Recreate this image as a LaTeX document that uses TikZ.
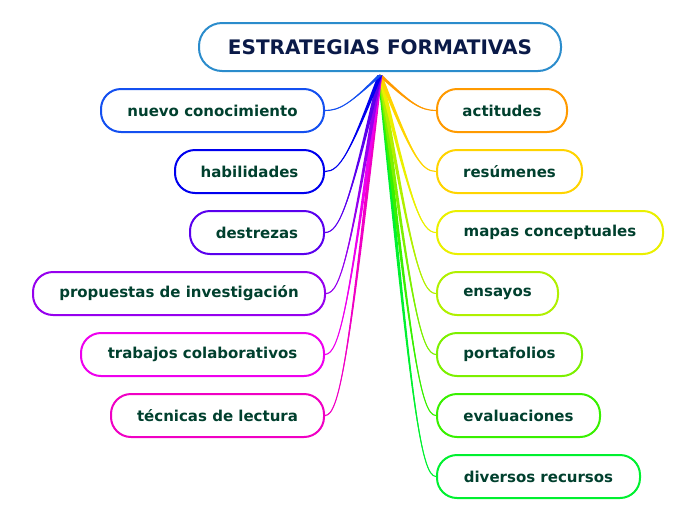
\documentclass[tikz,border=0pt]{standalone}
\usepackage{fontspec}
\setmainfont{DejaVu Sans}
\usetikzlibrary{calc}
\definecolor{txt}{HTML}{00402E}
\definecolor{ttxt}{HTML}{0A1A48}
\definecolor{tbord}{HTML}{2B8CCC}
\definecolor{cA}{HTML}{1450F0}
\definecolor{cB}{HTML}{0000EE}
\definecolor{cC}{HTML}{5A00EE}
\definecolor{cD}{HTML}{9600EE}
\definecolor{cE}{HTML}{EE00EE}
\definecolor{cF}{HTML}{F000C4}
\definecolor{dA}{HTML}{FF9A00}
\definecolor{dB}{HTML}{FFD400}
\definecolor{dC}{HTML}{EAF000}
\definecolor{dD}{HTML}{B0F000}
\definecolor{dE}{HTML}{7CF000}
\definecolor{dF}{HTML}{38F000}
\definecolor{dG}{HTML}{00F030}
\tikzset{
  box/.style={rectangle, rounded corners=20pt, line width=2pt, fill=white,
    minimum height=43pt, inner sep=0pt, text=txt,
    font=\fontsize{15}{18}\selectfont\bfseries},
  titlebox/.style={rectangle, rounded corners=23pt, line width=2pt, draw=tbord, fill=white,
    minimum height=48pt, minimum width=362pt, inner sep=0pt, text=ttxt,
    font=\fontsize{20}{24}\selectfont\bfseries}
}
% #1 colour, #2 target anchor
\newcommand\conn[2]{%
  \path (R) coordinate (r0) (#2) coordinate (t0);
  \path let \p1=(r0), \p2=(t0) in
     coordinate (q1) at ({\x1+0.55*(\x2-\x1)},{\y1+0.81*(\y2-\y1)})
     coordinate (q2) at ({\x2+0.27*(\x1-\x2)},{\y2});
  \fill[#1] ([xshift=-2.2pt]r0) .. controls ([xshift=-1pt,yshift=-0.5pt]q1) and ([yshift=-0.5pt]q2) .. (t0)
     .. controls ([yshift=0.5pt]q2) and ([xshift=1pt,yshift=0.5pt]q1) .. ([xshift=2.2pt]r0) -- cycle;
  \draw[#1, line width=1.1pt] (r0) .. controls (q1) and (q2) .. (t0);
}
\begin{document}
\begin{tikzpicture}[x=1pt,y=-1pt]
\useasboundingbox (0,0) rectangle (696,520);
\node[titlebox] (T) at (380,47) {ESTRATEGIAS FORMATIVAS};
\coordinate (R) at (380,75);
% left nodes
\node[box, draw=cA, minimum width=223pt, anchor=east] (L1) at (325,110.5) {nuevo conocimiento};
\node[box, draw=cB, minimum width=149pt, anchor=east] (L2) at (325,171.5) {habilidades};
\node[box, draw=cC, minimum width=134pt, anchor=east] (L3) at (325,232.5) {destrezas};
\node[box, draw=cD, minimum width=292pt, anchor=east] (L4) at (326,293.5) {propuestas de investigación};
\node[box, draw=cE, minimum width=243pt, anchor=east] (L5) at (325,354.5) {trabajos colaborativos};
\node[box, draw=cF, minimum width=213pt, anchor=east] (L6) at (325,415.5) {técnicas de lectura};
% right nodes
\node[box, draw=dA, minimum width=130pt, anchor=west] (R1) at (436,110.5) {actitudes};
\node[box, draw=dB, minimum width=145pt, anchor=west] (R2) at (436,171.5) {resúmenes};
\node[box, draw=dC, minimum width=226pt, anchor=west] (R3) at (436,232.5) {mapas conceptuales};
\node[box, draw=dD, minimum width=121pt, anchor=west] (R4) at (436,293.5) {ensayos};
\node[box, draw=dE, minimum width=145pt, anchor=west] (R5) at (436,354.5) {portafolios};
\node[box, draw=dF, minimum width=163pt, anchor=west] (R6) at (436,415.5) {evaluaciones};
\node[box, draw=dG, minimum width=203pt, anchor=west] (R7) at (436,476.5) {diversos recursos};
% connectors
\conn{dG}{R7.west}
\conn{dF}{R6.west}
\conn{dE}{R5.west}
\conn{dD}{R4.west}
\conn{dC}{R3.west}
\conn{dB}{R2.west}
\conn{dA}{R1.west}
\conn{cF}{L6.east}
\conn{cE}{L5.east}
\conn{cD}{L4.east}
\conn{cC}{L3.east}
\conn{cB}{L2.east}
\conn{cA}{L1.east}
\end{tikzpicture}
\end{document}
